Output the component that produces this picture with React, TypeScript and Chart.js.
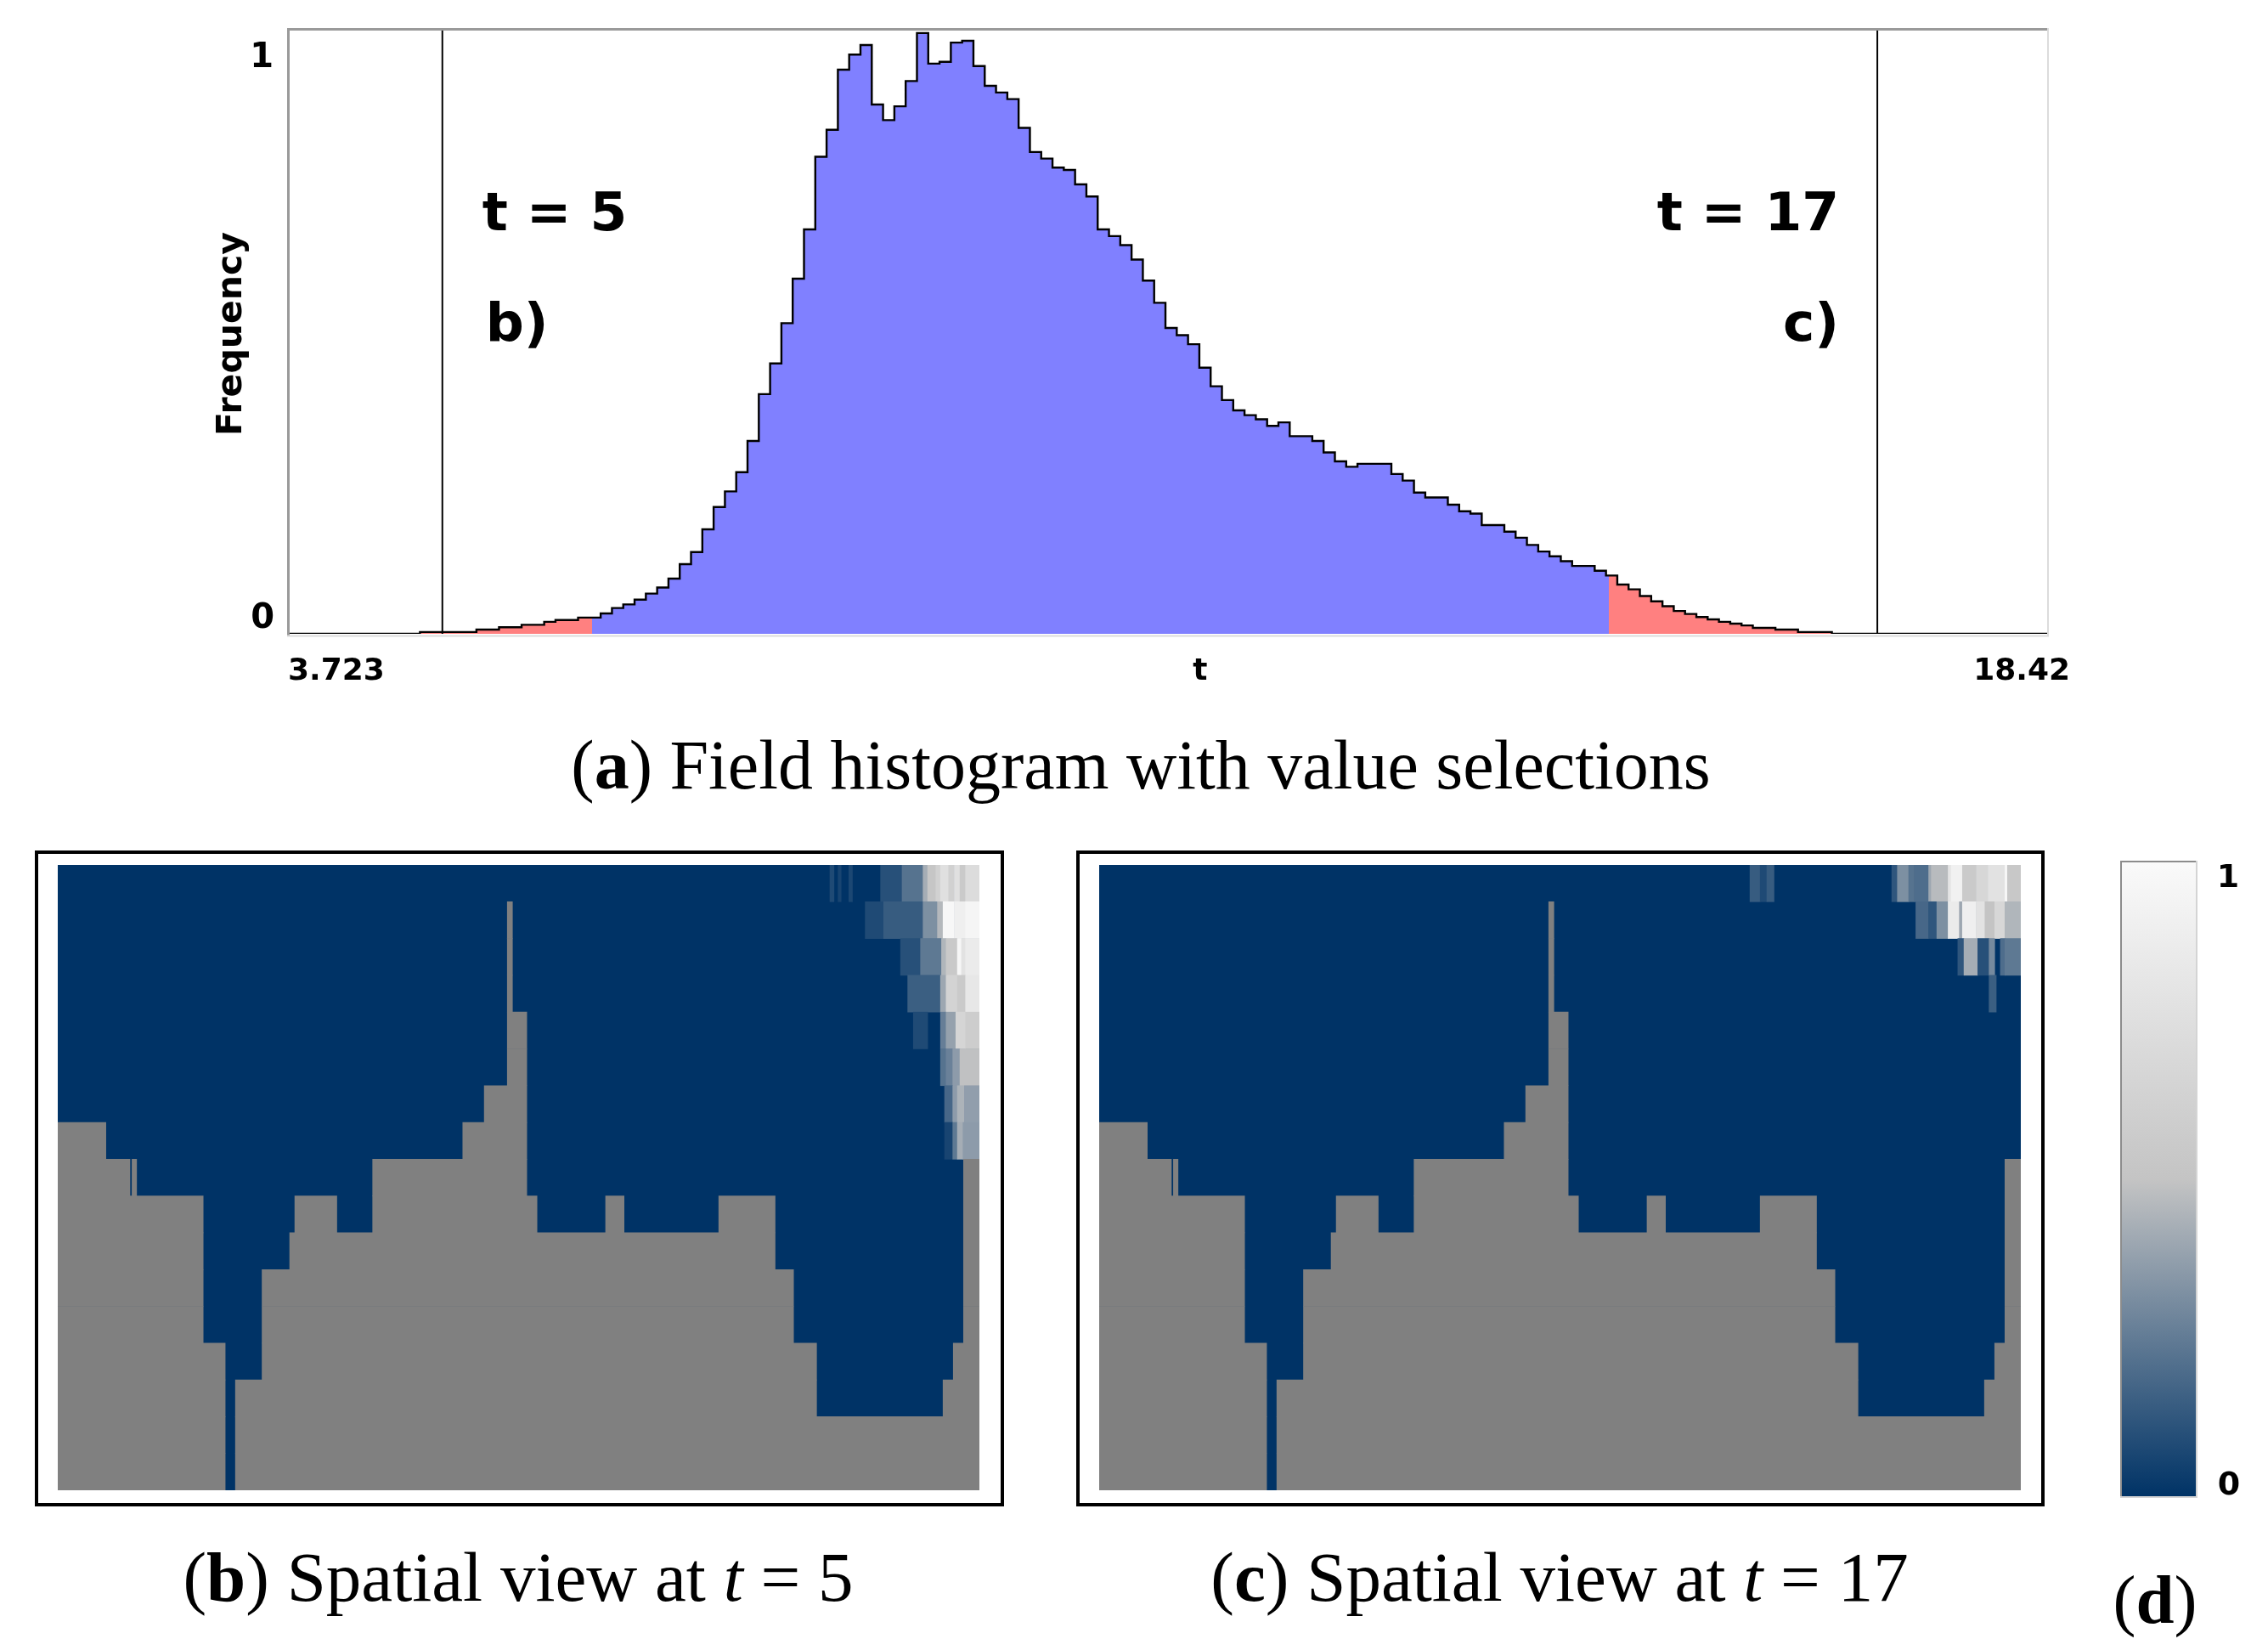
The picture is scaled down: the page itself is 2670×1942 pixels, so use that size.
import React, { useEffect, useRef } from "react";
import { Chart, registerables } from "chart.js";

Chart.register(...registerables);

// ---------------- data ----------------
// (a) field histogram
const T_RANGE = [3.723, 18.42];
const X_TICK_LABELS = ["3.723", "t", "18.42"];
const Y_TICK_LABELS = ["0", "1"];
const Y_TITLE = "Frequency";
const BIN_START = 4.8125;
const BIN_WIDTH = 0.09446;
const FREQ = [
  0.003, 0.003, 0.003, 0.003, 0.003, 0.007, 0.007, 0.011, 0.011, 0.015,
  0.015, 0.02, 0.023, 0.023, 0.027, 0.027, 0.034, 0.043, 0.049, 0.057,
  0.067, 0.077, 0.092, 0.116, 0.136, 0.174, 0.211, 0.237, 0.269, 0.321,
  0.399, 0.45, 0.517, 0.591, 0.673, 0.794, 0.839, 0.939, 0.964, 0.98,
  0.881, 0.855, 0.878, 0.92, 1.0, 0.949, 0.952, 0.984, 0.987, 0.945,
  0.912, 0.901, 0.89, 0.842, 0.802, 0.791, 0.776, 0.772, 0.748, 0.728,
  0.673, 0.662, 0.647, 0.623, 0.588, 0.551, 0.509, 0.497, 0.482, 0.443,
  0.412, 0.389, 0.372, 0.364, 0.357, 0.346, 0.352, 0.329, 0.329, 0.321,
  0.302, 0.287, 0.278, 0.283, 0.283, 0.283, 0.266, 0.255, 0.235, 0.227,
  0.227, 0.215, 0.204, 0.2, 0.181, 0.181, 0.17, 0.16, 0.148, 0.137,
  0.129, 0.121, 0.113, 0.113, 0.105, 0.097, 0.082, 0.074, 0.063, 0.054,
  0.046, 0.038, 0.033, 0.028, 0.024, 0.02, 0.017, 0.014, 0.01, 0.01,
  0.007, 0.007, 0.003, 0.003, 0.003,
];
const SELECTION = [6.252, 14.756]; // blue between, red outside
const MARKER_T = [5, 17];
const MARKER_TEXT = ["t = 5", "t = 17"];
const MARKER_PANEL = ["b)", "c)"];

// (b), (c) spatial views: 17 depth rows (0 = top), horizontal extent 0..180
const GRID_ROWS = 17;
const GRID_WIDTH = 180;
// [x0, x1, first land row]  (land fills that row down to the bottom)
const SEAFLOOR = [
  [0, 9.4, 7], [9.4, 14.1, 8], [14.1, 14.5, 9], [14.5, 15.4, 8],
  [15.4, 28.4, 9], [28.4, 32.7, 13], [32.7, 34.7, 17], [34.7, 39.9, 14],
  [39.9, 45.3, 11], [45.3, 46.3, 10], [46.3, 54.5, 9], [54.5, 61.5, 10],
  [61.5, 79.1, 8], [79.1, 83.3, 7], [83.3, 87.8, 6], [87.8, 88.8, 1],
  [88.8, 91.6, 4], [91.6, 93.6, 9], [93.6, 107.0, 10], [107.0, 110.6, 9],
  [110.6, 129.1, 10], [129.1, 140.1, 9], [140.1, 143.7, 11], [143.7, 148.2, 13],
  [148.2, 172.9, 15], [172.9, 174.9, 14], [174.9, 176.9, 13], [176.9, 180, 8],
];
// [row, x0, x1, value]  (all other water cells are 0)
const CELLS_T5 = [
  [0, 150.8, 151.6, 0.08], [0, 152.4, 153.0, 0.06], [0, 154.5, 155.2, 0.07],
  [0, 160.7, 164.9, 0.1], [0, 164.9, 169.0, 0.22], [0, 169.0, 169.9, 0.42],
  [0, 169.9, 171.5, 0.52], [0, 171.5, 172.4, 0.62], [0, 172.4, 174.0, 0.76],
  [0, 174.0, 175.1, 0.62], [0, 175.1, 176.2, 0.76], [0, 176.2, 177.3, 0.56],
  [0, 177.3, 180, 0.72],
  [1, 157.7, 161.3, 0.08], [1, 161.3, 169.0, 0.14], [1, 169.0, 171.8, 0.32],
  [1, 171.8, 172.9, 0.46], [1, 172.9, 175.1, 0.97], [1, 175.1, 177.3, 0.9],
  [1, 177.3, 180, 0.95],
  [2, 164.6, 168.5, 0.1], [2, 168.5, 172.6, 0.24], [2, 172.6, 173.5, 0.45],
  [2, 173.5, 175.7, 0.55], [2, 175.7, 176.5, 0.96], [2, 176.5, 177.3, 0.78],
  [2, 177.3, 180, 0.86],
  [3, 166.0, 172.4, 0.15], [3, 172.4, 173.5, 0.4], [3, 173.5, 175.7, 0.64],
  [3, 175.7, 177.3, 0.56], [3, 177.3, 180, 0.82],
  [4, 167.1, 169.9, 0.08], [4, 172.4, 173.5, 0.26], [4, 173.5, 175.4, 0.38],
  [4, 175.4, 177.3, 0.66], [4, 177.3, 180, 0.58],
  [5, 172.4, 173.5, 0.22], [5, 173.5, 174.8, 0.27], [5, 174.8, 176.2, 0.36],
  [5, 176.2, 180, 0.49],
  [6, 173.2, 174.8, 0.18], [6, 174.8, 175.7, 0.36], [6, 175.7, 177.1, 0.44],
  [6, 177.1, 180, 0.37],
  [7, 173.2, 174.8, 0.06], [7, 174.8, 175.7, 0.24], [7, 175.7, 176.8, 0.42],
  [7, 176.8, 180, 0.36],
];
const CELLS_T17 = [
  [0, 127.1, 129.1, 0.14], [0, 129.1, 130.4, 0.08], [0, 130.4, 131.8, 0.14],
  [0, 154.8, 155.9, 0.12], [0, 155.9, 158.1, 0.32], [0, 158.1, 159.2, 0.22],
  [0, 159.2, 162.0, 0.2], [0, 162.0, 162.5, 0.4], [0, 162.5, 165.8, 0.47],
  [0, 165.8, 166.4, 0.8], [0, 166.4, 168.6, 0.92], [0, 168.6, 171.3, 0.56],
  [0, 171.3, 173.6, 0.68], [0, 173.6, 176.9, 0.78], [0, 176.9, 177.4, 0.96],
  [0, 177.4, 180, 0.54],
  [1, 159.5, 162.0, 0.18], [1, 162.0, 163.6, 0.12], [1, 163.6, 165.8, 0.32],
  [1, 165.8, 168.0, 0.86], [1, 168.0, 168.6, 0.4], [1, 168.6, 171.3, 0.9],
  [1, 171.3, 173.0, 0.78], [1, 173.0, 174.9, 0.5], [1, 174.9, 176.9, 0.68],
  [1, 176.9, 180, 0.45],
  [2, 167.7, 168.9, 0.12], [2, 168.9, 171.6, 0.42], [2, 171.6, 173.8, 0.1],
  [2, 173.8, 174.9, 0.3], [2, 176.0, 176.9, 0.2], [2, 176.9, 180, 0.24],
  [3, 173.8, 175.2, 0.15],
];
// (d) colour bar
const COLORBAR_RANGE = [0, 1];
const COLORBAR_LABELS = ["0", "1"];

// ---------------- styles ----------------
const BLUE = "#8080ff";
const RED = "#ff8080";
const NAVY = "#003366";
const LAND = "#808080";
const CMAP_STOPS: [number, number[]][] = [
  [0, [0, 51, 102]],
  [0.5, [196, 196, 196]],
  [1, [250, 250, 250]],
];
const SANS = "'DejaVu Sans', sans-serif";
const SERIF = "'Liberation Serif', 'Times New Roman', serif";
const Y_MAX = 1.004;

function rgbStr(c: number[]) {
  return `rgb(${c[0]},${c[1]},${c[2]})`;
}
function cmap(v: number) {
  for (let i = 1; i < CMAP_STOPS.length; i++) {
    const [p0, c0] = CMAP_STOPS[i - 1];
    const [p1, c1] = CMAP_STOPS[i];
    if (v <= p1) {
      const t = (v - p0) / (p1 - p0);
      return rgbStr(c0.map((c, k) => Math.round(c + (c1[k] - c) * t)));
    }
  }
  return rgbStr(CMAP_STOPS[CMAP_STOPS.length - 1][1]);
}

// land runs per row, merged so that neighbouring segments form one bar
function landRuns() {
  const out: { x: number[]; y: string }[] = [];
  for (let r = 0; r < GRID_ROWS; r++) {
    const segs = SEAFLOOR.filter((s) => s[2] <= r)
      .map((s) => [s[0], s[1]])
      .sort((a, b) => a[0] - b[0]);
    let cur: number[] | null = null;
    segs.forEach((s) => {
      if (cur && s[0] <= cur[1] + 1e-6) cur[1] = Math.max(cur[1], s[1]);
      else {
        if (cur) out.push({ x: cur, y: String(r) });
        cur = [s[0], s[1]];
      }
    });
    if (cur) out.push({ x: cur, y: String(r) });
  }
  return out;
}

// ---------------- plugins ----------------
const histDecor = {
  id: "histDecor",
  afterDatasetsDraw(chart: any) {
    const { ctx, chartArea: a } = chart;
    ctx.save();
    ctx.fillStyle = "#9a9a9a";
    ctx.fillRect(a.left - 3, a.top - 3, a.right - a.left + 3, 3);
    ctx.fillRect(a.left - 3, a.top - 3, 3, a.bottom - a.top + 6);
    ctx.fillStyle = "#dcdcdc";
    ctx.fillRect(a.right, a.top - 3, 2, a.bottom - a.top + 6);
    ctx.fillRect(a.left - 3, a.bottom + 1.5, a.right - a.left + 5, 2);
    ctx.restore();
  },
  afterDraw(chart: any) {
    const { ctx, chartArea: a, scales } = chart;
    const xs = scales.x;
    ctx.save();
    ctx.fillStyle = "#000";
    // y tick labels
    ctx.font = `bold 40px ${SANS}`;
    ctx.textAlign = "right";
    ctx.textBaseline = "middle";
    ctx.fillText(Y_TICK_LABELS[1], a.left - 19, a.top + 33);
    ctx.fillText(Y_TICK_LABELS[0], a.left - 18, a.bottom - 17);
    // y title
    ctx.save();
    ctx.font = `bold 41px ${SANS}`;
    ctx.translate(a.left - 68, (a.top + a.bottom) / 2 + 2);
    ctx.rotate(-Math.PI / 2);
    ctx.textAlign = "center";
    ctx.fillText(Y_TITLE, 0, 0);
    ctx.restore();
    // x labels
    ctx.font = `bold 36px ${SANS}`;
    ctx.textBaseline = "alphabetic";
    ctx.textAlign = "left";
    ctx.fillText(X_TICK_LABELS[0], a.left - 2, a.bottom + 54);
    ctx.textAlign = "center";
    ctx.fillText(X_TICK_LABELS[1], a.left + 0.518 * (a.right - a.left), a.bottom + 54);
    ctx.textAlign = "right";
    ctx.fillText(X_TICK_LABELS[2], a.right + 27, a.bottom + 54);
    // marker annotations
    ctx.font = `bold 63px ${SANS}`;
    const p0 = xs.getPixelForValue(MARKER_T[0]);
    const p1 = xs.getPixelForValue(MARKER_T[1]);
    ctx.textAlign = "left";
    ctx.fillText(MARKER_TEXT[0], p0 + 47, a.top + 235);
    ctx.fillText(MARKER_PANEL[0], p0 + 51, a.top + 365);
    ctx.textAlign = "right";
    ctx.fillText(MARKER_TEXT[1], p1 - 45, a.top + 235);
    ctx.fillText(MARKER_PANEL[1], p1 - 45, a.top + 365);
    ctx.restore();
  },
};

const navyBackground = {
  id: "navyBackground",
  beforeDatasetsDraw(chart: any) {
    const { ctx, chartArea: a } = chart;
    ctx.save();
    ctx.fillStyle = NAVY;
    ctx.fillRect(a.left, a.top, a.right - a.left, a.bottom - a.top);
    ctx.restore();
  },
};

const colorbarDecor = {
  id: "colorbarDecor",
  afterDraw(chart: any) {
    const { ctx, chartArea: a } = chart;
    ctx.save();
    ctx.fillStyle = "#8c8c8c";
    ctx.fillRect(a.left - 2, a.top - 2, a.right - a.left + 2, 2);
    ctx.fillRect(a.left - 2, a.top - 2, 2, a.bottom - a.top + 4);
    ctx.fillStyle = "#d4d4d4";
    ctx.fillRect(a.right, a.top - 2, 2, a.bottom - a.top + 4);
    ctx.fillRect(a.left - 2, a.bottom, a.right - a.left + 4, 2);
    ctx.fillStyle = "#000";
    ctx.font = `bold 38px ${SANS}`;
    ctx.textAlign = "center";
    ctx.textBaseline = "middle";
    const ys = chart.scales.y;
    ctx.fillText(COLORBAR_LABELS[1], a.right + 38, ys.getPixelForValue(COLORBAR_RANGE[1]) + 19);
    ctx.fillText(COLORBAR_LABELS[0], a.right + 39, ys.getPixelForValue(COLORBAR_RANGE[0]) - 12);
    ctx.restore();
  },
};

// ---------------- charts ----------------
function selectionFill(ctx: any) {
  const chart = ctx.chart;
  const area = chart.chartArea;
  const xs = chart.scales && chart.scales.x;
  if (!area || !xs) return BLUE;
  const w = area.right - area.left;
  const clamp = (v: number) => Math.min(1, Math.max(0, v));
  const a = clamp((xs.getPixelForValue(SELECTION[0]) - area.left) / w);
  const b = clamp((xs.getPixelForValue(SELECTION[1]) - area.left) / w);
  const g = chart.ctx.createLinearGradient(area.left, 0, area.right, 0);
  g.addColorStop(0, RED);
  g.addColorStop(a, RED);
  g.addColorStop(a, BLUE);
  g.addColorStop(b, BLUE);
  g.addColorStop(b, RED);
  g.addColorStop(1, RED);
  return g;
}

function Histogram() {
  const ref = useRef<HTMLCanvasElement>(null);
  useEffect(() => {
    const points = [
      { x: T_RANGE[0], y: 0 },
      ...FREQ.map((f, i) => ({ x: BIN_START + i * BIN_WIDTH, y: f })),
      { x: BIN_START + FREQ.length * BIN_WIDTH, y: 0 },
      { x: T_RANGE[1], y: 0 },
    ];
    const markerSets = MARKER_T.map((t) => ({
      type: "line" as const,
      data: [
        { x: t, y: 0 },
        { x: t, y: Y_MAX },
      ],
      borderColor: "#000",
      borderWidth: 2,
      pointRadius: 0,
      fill: false,
    }));
    const chart = new Chart(ref.current as HTMLCanvasElement, {
      type: "line",
      data: {
        datasets: [
          ...markerSets,
          {
            data: points,
            stepped: "before",
            borderColor: "#000",
            borderWidth: 2.4,
            pointRadius: 0,
            fill: "origin",
            backgroundColor: selectionFill as any,
          },
        ],
      } as any,
      options: {
        animation: false,
        responsive: false,
        devicePixelRatio: 1,
        events: [],
        layout: { autoPadding: false, padding: { left: 341, top: 36, right: 260, bottom: 94 } },
        plugins: { legend: { display: false }, tooltip: { enabled: false } },
        scales: {
          x: { type: "linear", min: T_RANGE[0], max: T_RANGE[1], display: false },
          y: { type: "linear", min: 0, max: Y_MAX, display: false },
        },
      },
      plugins: [histDecor],
    });
    return () => chart.destroy();
  }, []);
  return <canvas ref={ref} width={2670} height={840} style={{ position: "absolute", left: 0, top: 0 }} />;
}

function SpatialPanel({ cells, left, top }: { cells: number[][]; left: number; top: number }) {
  const ref = useRef<HTMLCanvasElement>(null);
  useEffect(() => {
    const labels = Array.from({ length: GRID_ROWS }, (_, i) => String(i));
    const landBars = landRuns();
    const cellBars = cells.map(([r, x0, x1]) => ({ x: [x0, x1], y: String(r) }));
    const cellColors = cells.map((c) => cmap(c[3]));
    const common = {
      grouped: false,
      barPercentage: 1,
      categoryPercentage: 1,
      borderWidth: 0,
    };
    const chart = new Chart(ref.current as HTMLCanvasElement, {
      type: "bar",
      data: {
        labels,
        datasets: [
          { ...common, data: landBars, backgroundColor: LAND },
          { ...common, data: cellBars, backgroundColor: cellColors },
        ],
      } as any,
      options: {
        indexAxis: "y",
        animation: false,
        responsive: false,
        devicePixelRatio: 1,
        events: [],
        layout: { autoPadding: false, padding: 0 },
        plugins: { legend: { display: false }, tooltip: { enabled: false } },
        scales: {
          x: { type: "linear", min: 0, max: GRID_WIDTH, display: false },
          y: { type: "category", offset: true, display: false },
        },
      } as any,
      plugins: [navyBackground],
    });
    return () => chart.destroy();
  }, []);
  return <canvas ref={ref} width={1085} height={736} style={{ position: "absolute", left, top }} />;
}

function ColorBar() {
  const ref = useRef<HTMLCanvasElement>(null);
  useEffect(() => {
    const chart = new Chart(ref.current as HTMLCanvasElement, {
      type: "bar",
      data: {
        labels: [""],
        datasets: [
          {
            data: [COLORBAR_RANGE],
            barPercentage: 1,
            categoryPercentage: 1,
            borderWidth: 0,
            backgroundColor: (ctx: any) => {
              const chart = ctx.chart;
              const ys = chart.scales && chart.scales.y;
              if (!chart.chartArea || !ys) return NAVY;
              const g = chart.ctx.createLinearGradient(
                0,
                ys.getPixelForValue(COLORBAR_RANGE[0]),
                0,
                ys.getPixelForValue(COLORBAR_RANGE[1])
              );
              CMAP_STOPS.forEach(([p, c]) => g.addColorStop(p, rgbStr(c)));
              return g;
            },
          },
        ],
      } as any,
      options: {
        animation: false,
        responsive: false,
        devicePixelRatio: 1,
        events: [],
        layout: { autoPadding: false, padding: { left: 8, top: 10, right: 85, bottom: 14 } },
        plugins: { legend: { display: false }, tooltip: { enabled: false } },
        scales: {
          x: { display: false },
          y: { type: "linear", min: COLORBAR_RANGE[0], max: COLORBAR_RANGE[1], display: false },
        },
      } as any,
      plugins: [colorbarDecor],
    });
    return () => chart.destroy();
  }, []);
  return <canvas ref={ref} width={180} height={770} style={{ position: "absolute", left: 2490, top: 1005 }} />;
}

const captionStyle = (cx: number, top: number, size = 81): React.CSSProperties => ({
  position: "absolute",
  left: cx,
  top,
  transform: "translateX(-50%)",
  whiteSpace: "nowrap",
  fontFamily: SERIF,
  fontSize: size,
  lineHeight: `${size}px`,
  color: "#000",
});

export default function App() {
  return (
    <div style={{ position: "absolute", left: 0, top: 0, width: 2670, height: 1942, background: "#fff", overflow: "hidden" }}>
      <Histogram />
      <div style={captionStyle(1343, 860, 82)}>
        (<b>a</b>) Field histogram with value selections
      </div>
      <div
        style={{ position: "absolute", left: 41, top: 1001, width: 1141, height: 772, border: "4px solid #000", boxSizing: "border-box" }}
      />
      <SpatialPanel cells={CELLS_T5} left={68} top={1018} />
      <div
        style={{ position: "absolute", left: 1267, top: 1001, width: 1140, height: 772, border: "4px solid #000", boxSizing: "border-box" }}
      />
      <SpatialPanel cells={CELLS_T17} left={1294} top={1018} />
      <ColorBar />
      <div style={captionStyle(610, 1815, 83)}>
        (<b>b</b>) Spatial view at <i>t</i>&nbsp;=&nbsp;5
      </div>
      <div style={captionStyle(1836, 1815, 83)}>
        (<b>c</b>) Spatial view at <i>t</i>&nbsp;=&nbsp;17
      </div>
      <div style={captionStyle(2537, 1843, 81)}>
        (<b>d</b>)
      </div>
    </div>
  );
}
